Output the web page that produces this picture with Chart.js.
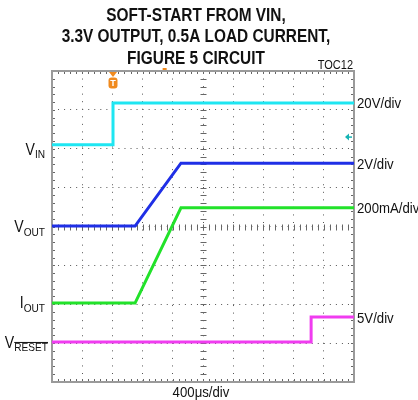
<!DOCTYPE html>
<html>
<head>
<meta charset="utf-8">
<script src="https://cdn.jsdelivr.net/npm/chart.js@4.4.1/dist/chart.umd.min.js"></script>
<style>
  html, body { margin: 0; padding: 0; background: #fff; }
</style>
</head>
<body>
<canvas id="scope" width="418" height="400"></canvas>
<script>
// time in divisions (400us/div), amplitude in divisions above the bottom edge
const vinTime = [0, 2.02, 2.02, 10];
const vinLevel = [6.10, 6.10, 7.18, 7.18];
const voutTime = [0, 2.75, 4.27, 10];
const voutLevel = [4.01, 4.01, 5.63, 5.63];
const ioutTime = [0, 2.75, 4.27, 10];
const ioutLevel = [2.03, 2.03, 4.48, 4.48];
const resetTime = [0, 8.58, 8.58, 10];
const resetLevel = [1.03, 1.03, 1.67, 1.67];

const titleLines = ['SOFT-START FROM VIN,', '3.3V OUTPUT, 0.5A LOAD CURRENT,', 'FIGURE 5 CIRCUIT'];
const timeLabel = '400μs/div';
const scaleLabels = ['20V/div', '2V/div', '200mA/div', '5V/div'];
const channelNames = [['V', 'IN'], ['V', 'OUT'], ['I', 'OUT'], ['V', 'RESET']];
const figureTag = 'TOC12';

const FONT = "'Liberation Sans', Arial, sans-serif";
const SQUEEZE = 0.88; // the original lettering is a narrow face

const traces = [
  { t: vinTime, v: vinLevel, color: '#1ee6f2' },
  { t: voutTime, v: voutLevel, color: '#1f2fe6' },
  { t: ioutTime, v: ioutLevel, color: '#22e22a' },
  { t: resetTime, v: resetLevel, color: '#f03cf0' }
];

function toPoints(t, v) {
  return t.map((x, i) => ({ x: x, y: v[i] }));
}

// draw text squeezed horizontally; returns drawn width
function narrowText(ctx, text, x, y, font, align) {
  ctx.font = font;
  const w = ctx.measureText(text).width * SQUEEZE;
  let x0 = x;
  if (align === 'center') x0 = x - w / 2;
  if (align === 'right') x0 = x - w;
  ctx.save();
  ctx.translate(x0, y);
  ctx.scale(SQUEEZE, 1);
  ctx.textAlign = 'left';
  ctx.fillText(text, 0, 0);
  ctx.restore();
  return w;
}

function measureNarrow(ctx, text, font) {
  ctx.font = font;
  return ctx.measureText(text).width * SQUEEZE;
}

function drawName(ctx, parts, xRight, y, overline) {
  const big = '16px ' + FONT, small = '11.5px ' + FONT;
  const w1 = measureNarrow(ctx, parts[0], big);
  const w2 = measureNarrow(ctx, parts[1], small);
  const x0 = xRight - w1 - w2;
  ctx.textBaseline = 'alphabetic';
  narrowText(ctx, parts[0], x0, y + 6, big, 'left');
  narrowText(ctx, parts[1], x0 + w1, y + 9.5, small, 'left');
  if (overline) {
    ctx.beginPath();
    ctx.lineWidth = 1;
    ctx.moveTo(x0 + w1, y + 0.5);
    ctx.lineTo(x0 + w1 + w2, y + 0.5);
    ctx.stroke();
  }
}

const scopeFrame = {
  id: 'scopeFrame',
  beforeDatasetsDraw(chart) {
    const ctx = chart.ctx;
    const { left, right, top, bottom } = chart.chartArea;
    const xs = chart.scales.x, ys = chart.scales.y;
    const xMid = Math.round(xs.getPixelForValue(5)) + 0.5;
    const yMid = Math.round(ys.getPixelForValue(4)) + 0.5;
    ctx.save();
    ctx.strokeStyle = '#666';
    ctx.lineWidth = 1;
    ctx.beginPath();
    for (let i = 0; i <= 50; i++) {
      const px = Math.round(xs.getPixelForValue(i / 5)) + 0.5;
      ctx.moveTo(px, top); ctx.lineTo(px, top + 3);
      ctx.moveTo(px, bottom - 3); ctx.lineTo(px, bottom);
      ctx.moveTo(px, yMid - 3); ctx.lineTo(px, yMid + 3);
    }
    for (let i = 0; i <= 40; i++) {
      const py = Math.round(ys.getPixelForValue(i / 5)) + 0.5;
      ctx.moveTo(left, py); ctx.lineTo(left + 3, py);
      ctx.moveTo(right - 3, py); ctx.lineTo(right, py);
      ctx.moveTo(xMid - 3, py); ctx.lineTo(xMid + 3, py);
    }
    ctx.stroke();
    ctx.strokeStyle = '#9a9a9a';
    ctx.lineWidth = 2;
    ctx.strokeRect(left, top, right - left, bottom - top);
    ctx.restore();
  },
  afterDraw(chart) {
    const ctx = chart.ctx;
    const { left, right, top, bottom } = chart.chartArea;
    const xs = chart.scales.x, ys = chart.scales.y;
    ctx.save();
    ctx.fillStyle = '#111';
    ctx.strokeStyle = '#111';
    ctx.textBaseline = 'alphabetic';

    // title block
    const titleFont = 'bold 17.5px ' + FONT;
    titleLines.forEach((line, i) => {
      narrowText(ctx, line, 196, 21 + i * 21.3, titleFont, 'center');
    });

    // channel names at the resting level of each trace
    const nameOffsets = [4, 0, -1, 0];
    traces.forEach((tr, i) => {
      const y = ys.getPixelForValue(tr.v[0]) + nameOffsets[i];
      drawName(ctx, channelNames[i], i === 3 ? left - 4 : left - 7, y, i === 3);
    });

    // volts per division at the final level of each trace
    traces.forEach((tr, i) => {
      const y = ys.getPixelForValue(tr.v[tr.v.length - 1]) + 5.5;
      narrowText(ctx, scaleLabels[i], right + 3, y, '15px ' + FONT, 'left');
    });

    narrowText(ctx, timeLabel, 201, bottom + 15, '15px ' + FONT, 'center');
    narrowText(ctx, figureTag, right - 1, top - 2, '12.5px ' + FONT, 'right');

    // trigger marker
    const tx = xs.getPixelForValue(vinTime[1]);
    ctx.fillStyle = '#f08a1e';
    ctx.beginPath();
    ctx.moveTo(tx - 4, top + 1); ctx.lineTo(tx + 4, top + 1); ctx.lineTo(tx, top + 6);
    ctx.closePath();
    ctx.fill();
    ctx.beginPath();
    ctx.roundRect(tx - 4.5, top + 6.5, 9, 11, 3);
    ctx.fill();
    ctx.fillStyle = '#fff';
    ctx.font = 'bold 9px ' + FONT;
    ctx.textAlign = 'center';
    ctx.textBaseline = 'middle';
    ctx.fillText('T', tx, top + 12.5);
    ctx.fillStyle = '#f08a1e';
    ctx.fillRect(xs.getPixelForValue(3.73) - 2, top - 3, 4, 2);

    // channel reference arrow
    const ay = ys.getPixelForValue(6.3);
    ctx.fillStyle = '#17b4b4';
    ctx.strokeStyle = '#17b4b4';
    ctx.beginPath();
    ctx.moveTo(right - 9, ay); ctx.lineTo(right - 5, ay - 3.5); ctx.lineTo(right - 5, ay + 3.5);
    ctx.closePath();
    ctx.fill();
    ctx.lineWidth = 1.5;
    ctx.beginPath();
    ctx.moveTo(right - 6, ay); ctx.lineTo(right - 2, ay);
    ctx.stroke();
    ctx.restore();
  }
};

new Chart(document.getElementById('scope'), {
  type: 'line',
  data: {
    datasets: traces.map(tr => ({
      data: toPoints(tr.t, tr.v),
      borderColor: tr.color,
      borderWidth: 3,
      pointRadius: 0,
      tension: 0
    }))
  },
  options: {
    responsive: false,
    animation: false,
    events: [],
    layout: { padding: { left: 52, right: 64, top: 71, bottom: 18 } },
    plugins: {
      legend: { display: false },
      tooltip: { enabled: false },
      title: { display: false }
    },
    scales: {
      x: {
        type: 'linear',
        min: 0,
        max: 10,
        ticks: { display: false, stepSize: 1 },
        grid: { color: '#555', lineWidth: 1, drawTicks: false },
        border: { display: false, dash: [1, 6.55] }
      },
      y: {
        type: 'linear',
        min: 0,
        max: 8,
        ticks: { display: false, stepSize: 1 },
        grid: { color: '#555', lineWidth: 1, drawTicks: false },
        border: { display: false, dash: [1, 5.04] }
      }
    }
  },
  plugins: [scopeFrame]
});
</script>
</body>
</html>
